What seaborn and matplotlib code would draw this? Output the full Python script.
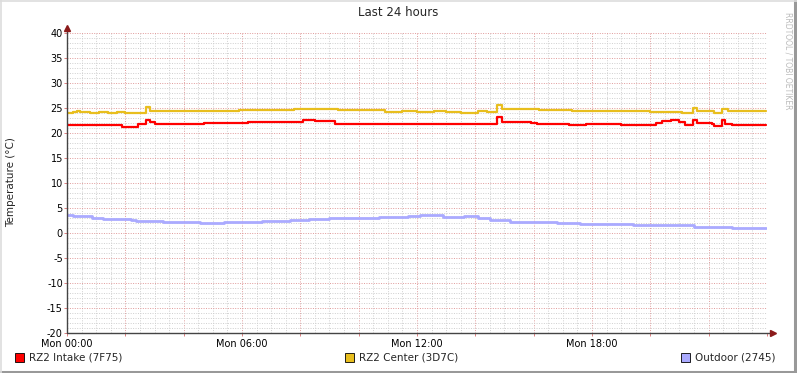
import numpy as np
import pandas as pd
import matplotlib
matplotlib.use('Agg')
import matplotlib.pyplot as plt
from matplotlib.patches import Rectangle
from matplotlib.lines import Line2D
import seaborn as sns

# data (hours since Mon 00:00, step values in deg C)
intake_h = [0, 1.9, 2.45, 2.7, 2.85, 3.0, 3.3, 3.5, 4.7, 6.2, 8.1, 8.5, 9.2, 10.5,
            14.75, 14.9, 15.9, 16.1, 17.2, 17.8, 19.0, 20.2, 20.4, 20.7, 21.0,
            21.2, 21.45, 21.6, 22.1, 22.2, 22.45, 22.55, 22.8, 23.95]
intake_v = [21.6, 21.3, 21.8, 22.7, 22.2, 21.9, 21.8, 21.9, 22.1, 22.3, 22.6, 22.4, 21.9, 21.8,
            23.3, 22.3, 22.1, 21.9, 21.7, 21.9, 21.7, 22.1, 22.4, 22.6, 22.3,
            21.6, 22.7, 22.1, 21.8, 21.4, 22.6, 21.9, 21.7, 21.7]

center_h = [0, 0.2, 0.35, 0.45, 0.8, 1.1, 1.4, 1.7, 2.0, 2.65, 2.7, 2.85, 5.9, 7.8,
            9.3, 10.9, 11.5, 12.0, 12.6, 13.0, 13.5, 14.1, 14.4, 14.75, 14.9, 16.2,
            17.3, 19.0, 20.0, 21.1, 21.45, 21.6, 22.2, 22.45, 22.65, 23.0, 23.95]
center_v = [24.1, 24.3, 24.5, 24.2, 24.0, 24.2, 24.1, 24.2, 24.1, 24.0, 25.3, 24.5, 24.6, 24.8,
            24.6, 24.3, 24.5, 24.2, 24.5, 24.3, 24.1, 24.4, 24.2, 25.6, 24.9, 24.6,
            24.5, 24.4, 24.2, 24.1, 25.1, 24.5, 24.0, 24.9, 24.5, 24.4, 24.4]

outdoor_h = [0, 0.2, 0.85, 1.25, 1.7, 2.2, 2.35, 3.3, 4.55, 5.4, 6.7, 7.3, 7.65, 8.3,
             9.0, 10.7, 11.7, 12.1, 12.9, 13.6, 14.1, 14.5, 15.2, 16.8, 17.6, 19.4,
             21.5, 22.8, 23.95]
outdoor_v = [3.6, 3.4, 3.1, 2.9, 2.8, 2.6, 2.5, 2.3, 2.1, 2.2, 2.4, 2.5, 2.6, 2.9,
             3.0, 3.2, 3.5, 3.6, 3.3, 3.5, 3.1, 2.7, 2.3, 2.1, 1.8, 1.6,
             1.3, 1.0, 1.0]

names = ['RZ2 Intake (7F75)', 'RZ2 Center (3D7C)', 'Outdoor (2745)']
colors = ['#FF0000', '#E8BE1E', '#AAAAFF']
xlabels = ['Mon 00:00', 'Mon 06:00', 'Mon 12:00', 'Mon 18:00']

df = pd.concat([
    pd.DataFrame({'hour': intake_h, 'temp': intake_v, 'sensor': names[0]}),
    pd.DataFrame({'hour': center_h, 'temp': center_v, 'sensor': names[1]}),
    pd.DataFrame({'hour': outdoor_h, 'temp': outdoor_v, 'sensor': names[2]}),
])

sns.set_style('white')
plt.rcParams['font.family'] = ['DejaVu Sans']
plt.rcParams['axes.unicode_minus'] = False

fig = plt.figure(figsize=(7.97, 3.73), dpi=100)
fig.patch.set_facecolor('white')
ax = fig.add_axes([67/797, 40/373, 700/797, 300/373])

widths = {names[0]: 1.6, names[1]: 1.6, names[2]: 2.0}
for n, c in zip(names, colors):
    sns.lineplot(data=df[df.sensor == n], x='hour', y='temp', color=c,
                 drawstyle='steps-post', estimator=None, sort=False,
                 linewidth=widths[n], ax=ax, legend=False, zorder=3)

ax.set_xlim(0, 24)
ax.set_ylim(-20, 40)
ax.set_yticks(np.arange(-20, 41, 5))
ax.set_yticks(np.arange(-20, 41, 1), minor=True)
ax.set_xticks(np.arange(0, 24.1, 2))
ax.set_xticks(np.arange(0, 24.1, 0.5), minor=True)
ax.set_xticklabels([xlabels[i // 3] if i % 3 == 0 and i // 3 < 4 else '' for i in range(13)])
ax.grid(which='minor', color='#CFCFCF', linestyle=(0, (1, 1.5)), linewidth=0.7)
ax.grid(which='major', color='#E09A9A', linestyle=(0, (1, 1.5)), linewidth=0.7)
ax.set_axisbelow(True)
ax.tick_params(which='major', length=2, width=0.7, color='#E08080', labelsize=7, pad=1,
               labelcolor='black', bottom=True, left=True)
ax.tick_params(axis='x', pad=2)
ax.tick_params(which='minor', length=0)
ax.set_xlabel('')
ax.set_ylabel('')
for s in ['top', 'right', 'left', 'bottom']:
    ax.spines[s].set_visible(False)

# axes with arrows
ax.add_line(Line2D([0, 1.007], [0, 0], transform=ax.transAxes, color='#444444',
                   linewidth=1, clip_on=False, zorder=4))
ax.add_line(Line2D([0, 0], [0, 1.017], transform=ax.transAxes, color='#444444',
                   linewidth=1, clip_on=False, zorder=4))
ax.plot([1.008], [0], marker='>', markersize=4, color='#8B1A1A', transform=ax.transAxes,
        clip_on=False, zorder=5)
ax.plot([0], [1.018], marker='^', markersize=4, color='#8B1A1A', transform=ax.transAxes,
        clip_on=False, zorder=5)

fig.text(0.5, 1 - 13/373, 'Last 24 hours', ha='center', va='center', fontsize=8.5)
fig.text(11/797, 1 - 182/373, 'Temperature (°C)', rotation=90, ha='center', va='center',
         fontsize=7.5)
fig.text(788/797, 1 - 12/373, 'RRDTOOL / TOBI OETIKER', rotation=270, ha='center', va='top',
         fontsize=5.5, color='#BBBBBB')

# legend
leg_x = [15, 345, 681]
for lx, n, c in zip(leg_x, names, colors):
    fig.patches.append(Rectangle((lx/797, 1 - 362/373), 9/797, 9/373, transform=fig.transFigure,
                                 facecolor=c, edgecolor='black', linewidth=0.6))
    fig.text((lx + 14)/797, 1 - 358/373, n, ha='left', va='center', fontsize=7.5)

# frame shading
fig.add_artist(Line2D([0, 1], [0.004, 0.004], transform=fig.transFigure, color='#999999', linewidth=2.2))
fig.add_artist(Line2D([0.997, 0.997], [0, 1], transform=fig.transFigure, color='#999999', linewidth=2.2))
fig.add_artist(Line2D([0, 1], [0.998, 0.998], transform=fig.transFigure, color='#DDDDDD', linewidth=1.2))
fig.add_artist(Line2D([0.001, 0.001], [0, 1], transform=fig.transFigure, color='#DDDDDD', linewidth=1.2))

plt.savefig('out.png', dpi=100)
